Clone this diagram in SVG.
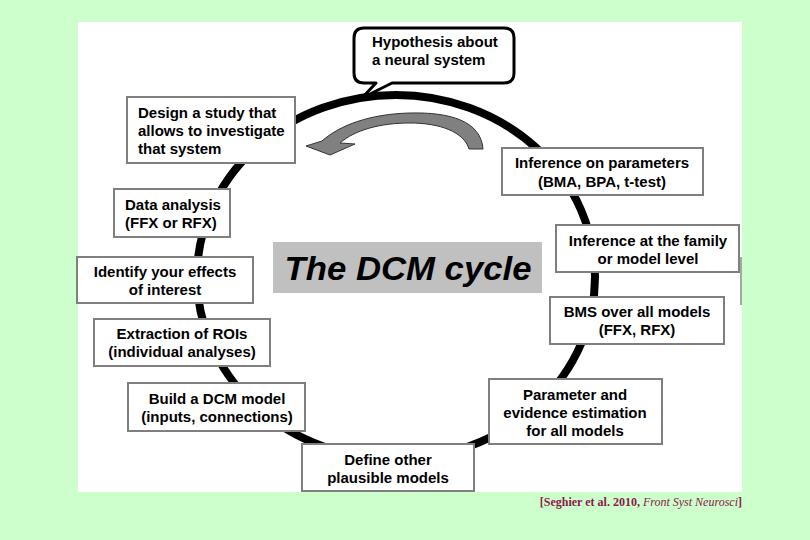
<svg xmlns="http://www.w3.org/2000/svg" width="810" height="540" viewBox="0 0 810 540">
<style>
.box{fill:#ffffff;stroke:#7f7f7f;stroke-width:2}
.t{font-family:"Liberation Sans",Arial,sans-serif;font-weight:bold;font-size:15px;fill:#000}
.c{text-anchor:middle}
</style>
<rect x="0" y="0" width="810" height="540" fill="#ccffcc"/>
<rect x="78" y="22" width="664" height="470" fill="#ffffff"/>
<line x1="741" y1="257" x2="741" y2="305" stroke="#8a8a8a" stroke-width="1.5"/>
<g id="connectors">
<ellipse cx="396" cy="277" rx="199" ry="182" fill="none" stroke="#000" stroke-width="8"/>
<path d="M483,149 C481,121 450,112 410,113 C370,114 340,125 322,141 L306,146 L330,155 L355,144 L340,143 C355,130 380,123 410,123 C440,123 464,132 469,149 Z" fill="#808080" stroke="#333" stroke-width="1"/>
</g>
<g id="hypothesis">
<path d="M364,28 H504 Q514,28 514,38 V73 Q514,83 504,83 H392 L362,98 L376,83 H364 Q354,83 354,73 V38 Q354,28 364,28 Z" fill="#fff" stroke="#000" stroke-width="3" stroke-linejoin="round"/>
<text class="t" x="372" y="47">Hypothesis about</text>
<text class="t" x="372" y="65">a neural system</text>
</g>
<g id="design">
<rect class="box" x="127" y="97" width="168" height="66"/>
<text class="t" x="138" y="118">Design a study that</text>
<text class="t" x="138" y="136">allows to investigate</text>
<text class="t" x="138" y="154">that system</text>
</g>
<g id="data">
<rect class="box" x="114" y="189" width="116" height="48"/>
<text class="t" x="125" y="210">Data analysis</text>
<text class="t" x="125" y="228">(FFX or RFX)</text>
</g>
<g id="identify">
<rect class="box" x="77" y="257" width="176" height="46"/>
<text class="t c" x="165" y="277">Identify your effects</text>
<text class="t c" x="165" y="295">of interest</text>
</g>
<g id="extraction">
<rect class="box" x="94" y="319" width="176" height="47"/>
<text class="t c" x="182" y="339">Extraction of ROIs</text>
<text class="t c" x="182" y="357">(individual analyses)</text>
</g>
<g id="build">
<rect class="box" x="128" y="383" width="177" height="48"/>
<text class="t c" x="217" y="404">Build a DCM model</text>
<text class="t c" x="217" y="422">(inputs, connections)</text>
</g>
<g id="define">
<rect class="box" x="302" y="444" width="172" height="47"/>
<text class="t c" x="388" y="465">Define other</text>
<text class="t c" x="388" y="483">plausible models</text>
</g>
<g id="estimation">
<rect class="box" x="489" y="379" width="173" height="65"/>
<text class="t c" x="575" y="400">Parameter and</text>
<text class="t c" x="575" y="418">evidence estimation</text>
<text class="t c" x="575" y="436">for all models</text>
</g>
<g id="bms">
<rect class="box" x="550" y="297" width="174" height="47"/>
<text class="t c" x="637" y="317">BMS over all models</text>
<text class="t c" x="637" y="335">(FFX, RFX)</text>
</g>
<g id="family">
<rect class="box" x="556" y="225" width="183" height="47"/>
<text class="t c" x="648" y="246">Inference at the family</text>
<text class="t c" x="648" y="264">or model level</text>
</g>
<g id="parameters">
<rect class="box" x="502" y="148" width="201" height="47"/>
<text class="t c" x="602" y="168">Inference on parameters</text>
<text class="t c" x="602" y="187">(BMA, BPA, t-test)</text>
</g>
<g id="title">
<rect x="273" y="242" width="269" height="51" fill="#c0c0c0"/>
<text x="408" y="280" text-anchor="middle" font-family="Liberation Sans,Arial,sans-serif" font-weight="bold" font-style="italic" font-size="34" textLength="247" lengthAdjust="spacingAndGlyphs">The DCM cycle</text>
</g>
<text x="742" y="506" text-anchor="end" font-family="Liberation Serif,'Times New Roman',serif" font-size="12" fill="#8b1a4b"><tspan font-weight="bold">[Seghier et al. 2010, </tspan><tspan font-style="italic">Front Syst Neurosci</tspan><tspan font-weight="bold">]</tspan></text>
</svg>
